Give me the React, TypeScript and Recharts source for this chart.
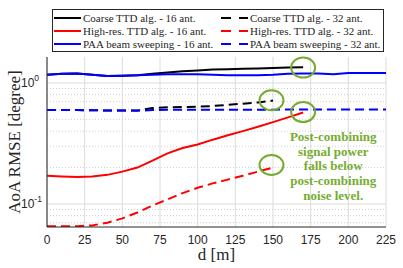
import React from 'react';
import { LineChart, Line, XAxis, YAxis, ReferenceLine, ReferenceDot } from 'recharts';

// distance d [m]
const D = [0, 10, 20, 30, 40, 50, 60, 70, 80, 90, 100, 110, 120, 130, 140, 150, 160, 170, 180, 190, 200, 210, 225];

// AoA RMSE [degree], null where the curve stops
const COARSE_16 = [1.17, 1.19, 1.2, 1.17, 1.14, 1.15, 1.16, 1.19, 1.22, 1.25, 1.27, 1.29, 1.3, 1.31, 1.32, 1.33, 1.34, 1.35, null, null, null, null, null];
const COARSE_32 = [0.598, 0.598, 0.597, 0.595, 0.593, 0.593, 0.592, 0.62, 0.63, 0.632, 0.636, 0.645, 0.66, 0.675, 0.69, 0.715, null, null, null, null, null, null, null];
const HIRES_16 = [0.171, 0.169, 0.167, 0.169, 0.174, 0.185, 0.2, 0.228, 0.262, 0.29, 0.31, 0.34, 0.37, 0.4, 0.435, 0.475, 0.52, 0.57, null, null, null, null, null];
const HIRES_32 = [0.0655, 0.0655, 0.0655, 0.0665, 0.07, 0.076, 0.085, 0.097, 0.109, 0.123, 0.136, 0.148, 0.159, 0.171, 0.185, 0.2, null, null, null, null, null, null, null];
const PAA_16 = [1.17, 1.19, 1.2, 1.17, 1.14, 1.15, 1.16, 1.17, 1.18, 1.18, 1.18, 1.17, 1.16, 1.16, 1.16, 1.17, 1.19, 1.2, 1.2, 1.18, 1.21, 1.21, 1.21];
const PAA_32 = [0.598, 0.598, 0.597, 0.595, 0.593, 0.593, 0.59, 0.597, 0.6, 0.6, 0.6, 0.6, 0.601, 0.602, 0.602, 0.602, 0.603, 0.603, 0.603, 0.603, 0.603, 0.603, 0.603];

const X_TICKS = [0, 25, 50, 75, 100, 125, 150, 175, 200, 225];
const Y_TICKS = [0.1, 1];
const Y_MINOR = [0.07, 0.08, 0.09, 0.2, 0.3, 0.4, 0.5, 0.6, 0.7, 0.8, 0.9];
const Y_ALL = [0.07, 0.08, 0.09, 0.1, 0.2, 0.3, 0.4, 0.5, 0.6, 0.7, 0.8, 0.9, 1];

// green circles marking where the curves end
const CIRCLE_D = [170, 149, 170, 149];
const CIRCLE_V = [1.34, 0.72, 0.575, 0.21];

const NOTE_LINES = ['Post-combining', 'signal power', 'falls below', 'post-combining', 'noise level.'];
const NOTE_D = 190;
const NOTE_V = 0.357;

const SERIES = [
  { key: 'coarse16', name: 'Coarse TTD alg. - 16 ant.', color: '#000000', dashed: false, values: COARSE_16 },
  { key: 'coarse32', name: 'Coarse TTD alg. - 32 ant.', color: '#000000', dashed: true, values: COARSE_32 },
  { key: 'hires16', name: 'High-res. TTD alg. - 16 ant.', color: '#ff0000', dashed: false, values: HIRES_16 },
  { key: 'hires32', name: 'High-res. TTD alg. - 32 ant.', color: '#ff0000', dashed: true, values: HIRES_32 },
  { key: 'paa16', name: 'PAA beam sweeping - 16 ant.', color: '#0000ff', dashed: false, values: PAA_16 },
  { key: 'paa32', name: 'PAA beam sweeping - 32 ant.', color: '#0000ff', dashed: true, values: PAA_32 },
];

const data = D.map((d, i) => {
  const row: Record<string, number | null> = { d };
  SERIES.forEach((s) => { row[s.key] = s.values[i]; });
  return row;
});

const SERIF = '"Liberation Serif", "DejaVu Serif", serif';
const SANS = '"Liberation Sans", Arial, sans-serif';
const AXIS = '#262626';
const GREEN = '#77ac30';
const GRID = '#dcdcdc';
const Y_DOMAIN = [0.0645, 1.64];

const LogTick = (props: any) => {
  const { x, y, payload } = props;
  const exp = Math.round(Math.log10(payload.value));
  return (
    <text x={x - 18} y={y} dy={4} fontFamily={SANS} fontSize={12} fill={AXIS}>
      10<tspan dy={-6} fontSize={8.5}>{exp}</tspan>
    </text>
  );
};

const Ellipse = (props: any) => (
  <ellipse cx={props.cx} cy={props.cy} rx={12} ry={10} fill="none" stroke={GREEN} strokeWidth={2} />
);

const Note = (props: any) => (
  <text x={props.cx} y={props.cy} textAnchor="middle" fontFamily={SERIF} fontWeight="bold" fontSize={13} fill={GREEN}>
    {NOTE_LINES.map((t, i) => (
      <tspan key={i} x={props.cx} dy={i === 0 ? 4 : 14.6}>{t}</tspan>
    ))}
  </text>
);

const LegendBox = () => (
  <div
    style={{
      position: 'absolute', left: 52, top: 9, width: 330, height: 40,
      border: `1px solid ${AXIS}`, background: '#fff',
      display: 'grid', gridTemplateColumns: '167px auto', gridAutoRows: '13.4px',
      paddingTop: 1, fontFamily: SERIF, fontSize: 11, color: AXIS,
    }}
  >
    {SERIES.map((s) => (
      <div key={s.key} style={{ display: 'flex', alignItems: 'center', whiteSpace: 'nowrap' }}>
        <svg width={30} height={6} style={{ flex: 'none' }}>
          <line x1={1} y1={3} x2={28} y2={3} stroke={s.color} strokeWidth={2} strokeDasharray={s.dashed ? '10 8' : undefined} />
        </svg>
        <span>{s.name}</span>
      </div>
    ))}
  </div>
);

export default function App() {
  return (
    <div style={{ position: 'absolute', left: 0, top: 0, width: 403, height: 268, background: '#fff' }}>
      <LineChart width={403} height={268} data={data} margin={{ top: 57, right: 17, left: 0, bottom: 0 }}>
        {X_TICKS.map((v) => (
          <ReferenceLine key={'x' + v} x={v} stroke={GRID} />
        ))}
        {Y_TICKS.map((v) => (
          <ReferenceLine key={'y' + v} y={v} stroke={GRID} />
        ))}
        {Y_MINOR.map((v) => (
          <ReferenceLine key={'m' + v} y={v} stroke="#d0d0d0" strokeDasharray="1 2" />
        ))}
        <XAxis
          dataKey="d"
          type="number"
          domain={[0, 225]}
          ticks={X_TICKS}
          interval={0}
          tickLine={false}
          axisLine={{ stroke: AXIS }}
          tick={{ fill: AXIS, fontSize: 12, fontFamily: SANS }}
          height={41}
          label={{ value: 'd [m]', position: 'insideBottom', offset: 8, fill: AXIS, fontSize: 17, fontFamily: SERIF }}
        />
        <XAxis
          xAxisId="top"
          orientation="top"
          type="number"
          domain={[0, 225]}
          ticks={X_TICKS}
          mirror
          tick={false}
          tickSize={3}
          height={0}
          axisLine={{ stroke: AXIS }}
          tickLine={{ stroke: AXIS }}
        />
        <YAxis
          scale="log"
          type="number"
          domain={Y_DOMAIN}
          allowDataOverflow
          ticks={Y_TICKS}
          tickLine={false}
          axisLine={{ stroke: AXIS }}
          tick={<LogTick />}
          width={47}
          label={{ value: 'AoA RMSE [degree]', angle: -90, position: 'insideLeft', offset: 14, fill: AXIS, fontSize: 17, fontFamily: SERIF, style: { textAnchor: 'middle' } }}
        />
        <YAxis
          yAxisId="r"
          orientation="right"
          scale="log"
          type="number"
          domain={Y_DOMAIN}
          allowDataOverflow
          ticks={Y_ALL}
          mirror
          tick={false}
          tickSize={3}
          width={0}
          axisLine={{ stroke: AXIS }}
          tickLine={{ stroke: AXIS }}
        />
        {SERIES.map((s) => (
          <Line
            key={s.key}
            dataKey={s.key}
            stroke={s.color}
            strokeWidth={2}
            strokeDasharray={s.dashed ? '9 5' : undefined}
            dot={false}
            type="linear"
            connectNulls={false}
            isAnimationActive={false}
          />
        ))}
        {CIRCLE_D.map((d, i) => (
          <ReferenceDot key={i} x={d} y={CIRCLE_V[i]} r={10} shape={<Ellipse />} />
        ))}
        <ReferenceDot x={NOTE_D} y={NOTE_V} r={1} shape={<Note />} />
      </LineChart>
      <LegendBox />
    </div>
  );
}
